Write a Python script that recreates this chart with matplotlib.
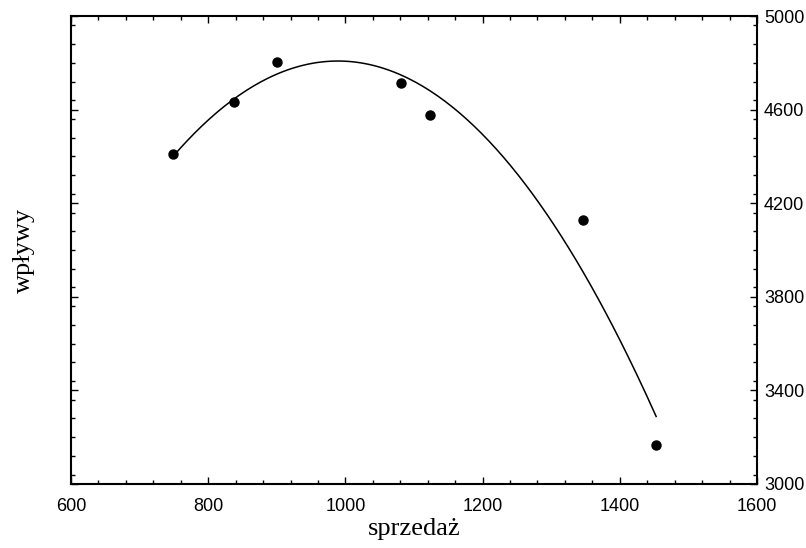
import numpy as np
import matplotlib.pyplot as plt
from matplotlib.ticker import MultipleLocator

# dane
sprzedaz = [749, 838, 900, 1081, 1123, 1346, 1453]
wplywy = [4409, 4631, 4803, 4712, 4576, 4127, 3167]
x_ticks = [600, 800, 1000, 1200, 1400, 1600]
y_ticks = [3000, 3400, 3800, 4200, 4600, 5000]

# dopasowanie paraboli (krzywa regresji)
coef = np.polyfit(sprzedaz, wplywy, 2)
xs = np.linspace(min(sprzedaz), max(sprzedaz), 200)
ys = np.polyval(coef, xs)

fig = plt.figure(figsize=(8.06, 5.48), dpi=100)
ax = fig.add_axes([0.0881, 0.1168, 0.8511, 0.854])

ax.plot(xs, ys, color='black', lw=1.1)
ax.plot(sprzedaz, wplywy, 'o', color='black', markersize=6.5)

ax.set_xlim(600, 1600)
ax.set_ylim(3000, 5000)
ax.set_xticks(x_ticks)
ax.set_yticks(y_ticks)
ax.xaxis.set_minor_locator(MultipleLocator(40))
ax.yaxis.set_minor_locator(MultipleLocator(80))

ax.tick_params(which='both', direction='in', top=True, bottom=True,
               left=True, right=True, labelleft=False, labelright=True,
               width=1.0, color='black')
ax.tick_params(which='major', length=5)
ax.tick_params(which='minor', length=3)
ax.tick_params(axis='x', which='major', pad=10)
ax.tick_params(axis='y', which='major', pad=5)
for lab in ax.get_xticklabels() + ax.get_yticklabels():
    lab.set_fontfamily('Liberation Sans')
    lab.set_fontsize(13)

for sp in ax.spines.values():
    sp.set_linewidth(1.5)

ax.set_xlabel('sprzedaż', fontfamily='Liberation Serif', fontsize=19, labelpad=2)
ax.set_ylabel('wpływy', fontfamily='Liberation Serif', fontsize=19, labelpad=26)

fig.savefig('out.png', dpi=100)
